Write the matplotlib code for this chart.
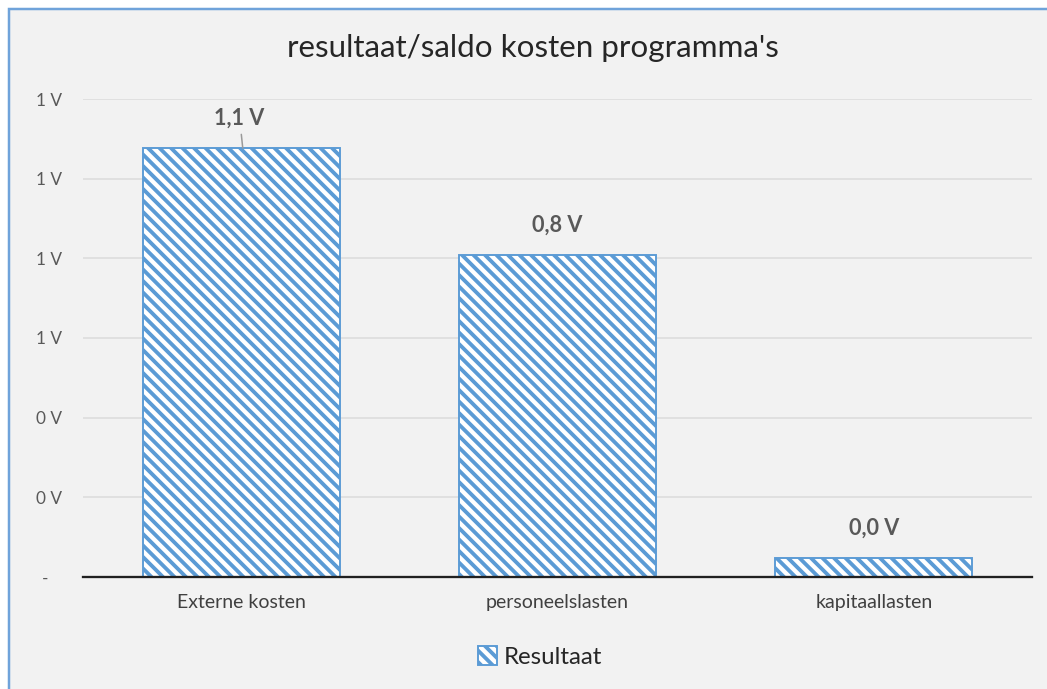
import matplotlib
matplotlib.use("Agg")
import matplotlib.pyplot as plt
from matplotlib.patches import Rectangle, Patch

categories = ["Externe kosten", "personeelslasten", "kapitaallasten"]
values = [1.077, 0.808, 0.048]
value_labels = ["1,1 V", "0,8 V", "0,0 V"]
yticks = [0.0, 0.2, 0.4, 0.6, 0.8, 1.0, 1.2]
ytick_labels = ["-   ", "0 V", "0 V", "1 V", "1 V", "1 V", "1 V"]
title = "resultaat/saldo kosten programma's"
series_name = "Resultaat"

DPI = 138
W, H = 1047, 689
plt.rcParams["font.family"] = ["Lato", "DejaVu Sans"]
plt.rcParams["hatch.color"] = "#5B9BD5"
plt.rcParams["hatch.linewidth"] = 2.0

fig = plt.figure(figsize=(W / DPI, H / DPI), dpi=DPI)
fig.patch.set_facecolor("white")
fig.patches.append(Rectangle((9 / W, -0.05), 1.1, (H - 9) / H + 0.05,
                             transform=fig.transFigure, facecolor="#F2F2F2",
                             edgecolor="#6FA3DA", linewidth=1.3, zorder=-10))

ax = fig.add_axes([83 / W, (H - 577) / H, (1032 - 83) / W, (577 - 99) / H])
ax.set_facecolor("none")
x = list(range(len(categories)))
bars = ax.bar(x, values, width=0.623, facecolor="white", edgecolor="#5B9BD5",
              hatch="\\\\\\\\", linewidth=1.0, zorder=3)
ax.set_xlim(-0.5, 2.5)
ax.set_ylim(0, 1.2)
ax.set_yticks(yticks)
ax.set_yticklabels(ytick_labels)
ax.set_xticks(x)
ax.set_xticklabels(categories)
ax.tick_params(axis="y", length=0, pad=11, labelsize=9, labelcolor="#595959")
ax.tick_params(axis="x", length=0, pad=9, labelsize=10.2, labelcolor="#404040")
ax.grid(axis="y", color="#E0E0E0", linewidth=1.0, zorder=0)
for s in ["top", "right", "left"]:
    ax.spines[s].set_visible(False)
ax.spines["bottom"].set_color("#202020")
ax.spines["bottom"].set_linewidth(1.2)
ax.spines["bottom"].set_zorder(4)

for i, (v, lab) in enumerate(zip(values, value_labels)):
    if i == 0:
        ax.annotate(lab, xy=(i + 0.005, v), xytext=(i - 0.005, v + 0.075),
                    ha="center", va="center",
                    fontsize=11.3, fontweight="bold", color="#595959",
                    arrowprops=dict(arrowstyle="-", color="#9A9A9A", lw=0.8,
                                    shrinkA=1, shrinkB=0))
    else:
        ax.text(i, v + 0.075, lab, ha="center", va="center", fontsize=11.3,
                fontweight="bold", color="#595959")

fig.text(533 / W, 1 - 48 / H, title, ha="center", va="center", fontsize=16.4,
         color="#262626")

handle = Patch(facecolor="white", edgecolor="#5B9BD5", hatch="\\\\\\\\", linewidth=1.0)
fig.legend([handle], [series_name], loc="center", bbox_to_anchor=(540 / W, 1 - 657 / H),
           frameon=False, fontsize=12.5, handlelength=0.8, handleheight=0.8,
           handletextpad=0.3, labelcolor="#262626")

fig.savefig("out.png", dpi=DPI, facecolor=fig.get_facecolor())
